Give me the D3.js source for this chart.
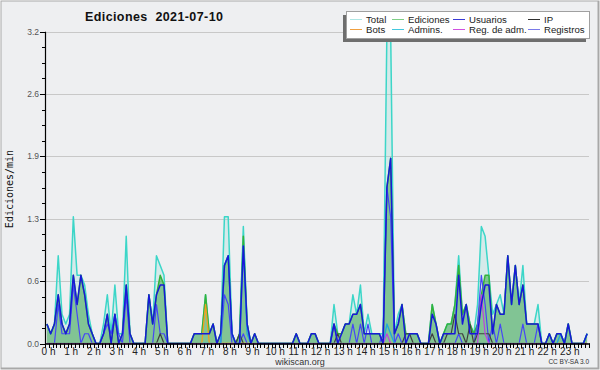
<!DOCTYPE html>
<html>
<head>
<meta charset="utf-8">
<script src="https://cdn.jsdelivr.net/npm/d3@7"></script>
<style>
  body { margin: 0; background: #fff; }
  svg { display: block; font-family: "Liberation Sans", Arial, sans-serif; }
</style>
</head>
<body>
<svg id="chart" width="600" height="370"></svg>
<script>
// valores por tramo de 10 minutos (ediciones/min), 6 por hora
var total = [
  0.2,0.1,0.2,0.9,0.3,0.2, 0.3,1.3,0.7,0.7,0.6,0.3, 0.1,0,0,0.2,0.5,0.1, 0.6,0.1,0.1,1.1,0.1,0,
  0,0,0,0.5,0.2,0.9, 0.8,0.7,0,0,0,0, 0,0,0,0.1,0.1,0.1, 0.5,0.1,0.2,0,0.1,1.3,
  1.3,0.1,0,0.1,1.2,0.2, 0,0.1,0,0,0,0, 0,0,0,0,0,0, 0.1,0,0,0,0.1,0.1,
  0,0,0,0,0.4,0.1, 0.1,0.2,0.2,0.5,0.3,0.6, 0.1,0.3,0.1,0.1,0.1,0.1, 3.2,3.2,0.1,0.3,0.4,0.1,
  0.1,0.1,0.1,0,0,0, 0.4,0.2,0,0.1,0.2,0.2, 0.4,0.9,0.3,0.4,0.2,0.1, 0.4,1.2,1.1,0.7,0.3,0.4,
  0.5,0.3,0.9,0.4,0.8,0.4, 0.8,0.2,0.2,0.2,0.4,0, 0,0.1,0,0.1,0.1,0, 0.2,0,0,0,0,0.1
];
var ediciones = [
  0.2,0.1,0.2,0.5,0.2,0.1, 0.2,0.7,0.4,0.7,0.5,0.2, 0.1,0,0,0.1,0.3,0, 0.3,0,0.1,0.6,0.1,0,
  0,0,0,0.5,0.2,0.5, 0.7,0.6,0,0,0,0, 0,0,0,0.1,0.1,0.1, 0.5,0.1,0.2,0,0.1,0.8,
  0.9,0.1,0,0.1,1.1,0.2, 0,0.1,0,0,0,0, 0,0,0,0,0,0, 0.1,0,0,0,0.1,0.1,
  0,0,0,0,0.2,0.1, 0.1,0.2,0.2,0.3,0.3,0.4, 0.1,0.1,0.1,0.1,0.1,0, 1.6,1.9,0.1,0.2,0.4,0.1,
  0.1,0.1,0.1,0,0,0, 0.4,0.2,0,0.1,0.2,0.2, 0.4,0.8,0.3,0.4,0.2,0.1, 0.2,0.5,0.7,0.7,0.1,0.4,
  0.3,0.3,0.9,0.4,0.8,0.4, 0.6,0.2,0.2,0.2,0.2,0, 0,0.1,0,0.1,0.1,0, 0.2,0,0,0,0,0.1
];
var usuarios = [
  0.2,0.1,0.2,0.5,0.2,0.1, 0.2,0.7,0.4,0.7,0.5,0.2, 0.1,0,0,0.1,0.3,0, 0.3,0,0.1,0.6,0.1,0,
  0,0,0,0.5,0.2,0.5, 0.6,0.6,0,0,0,0, 0,0,0,0.1,0.1,0.1, 0.1,0.1,0.2,0,0.1,0.8,
  0.9,0.1,0,0,1.0,0.2, 0,0.1,0,0,0,0, 0,0,0,0,0,0, 0.1,0,0,0,0.1,0.1,
  0,0,0,0,0.2,0, 0.1,0.2,0.2,0.3,0.3,0.4, 0.1,0.1,0.1,0.1,0.1,0, 1.6,1.9,0.1,0.2,0.4,0,
  0.1,0.1,0.1,0,0,0, 0.3,0.2,0,0.1,0.1,0.1, 0.1,0.7,0.2,0.4,0.1,0.1, 0.1,0.4,0.6,0.6,0.1,0.4,
  0.3,0.3,0.9,0.4,0.8,0.4, 0.6,0.2,0.2,0.2,0.2,0, 0,0.1,0,0.1,0.1,0, 0.2,0,0,0,0,0.1
];
var ip = [
  0,0,0,0,0,0, 0,0,0,0,0,0, 0,0,0,0,0,0, 0,0,0,0,0,0,
  0,0,0,0,0,0, 0.1,0,0,0,0,0, 0,0,0,0,0,0, 0,0,0,0,0,0,
  0,0,0,0.1,0,0, 0,0,0,0,0,0, 0,0,0,0,0,0, 0,0,0,0,0,0,
  0,0,0,0,0,0.1, 0,0,0,0,0,0, 0,0,0,0,0,0, 0,0,0,0,0,0.1,
  0.1,0,0,0,0,0, 0.1,0,0,0,0.1,0.1, 0.3,0.1,0.1,0,0.2,0, 0.1,0.1,0.1,0.1,0,0,
  0,0,0,0,0,0, 0,0,0,0,0,0, 0,0,0,0,0,0, 0,0,0,0,0,0
];
var bots = [
  0,0,0,0,0,0, 0,0,0,0,0,0, 0,0,0,0,0,0, 0,0,0,0,0,0,
  0,0,0,0,0,0, 0,0,0,0,0,0, 0,0,0,0,0,0, 0.4,0,0,0,0,0,
  0,0,0,0,0,0, 0,0,0,0,0,0, 0,0,0,0,0,0, 0,0,0,0,0,0,
  0,0,0,0,0,0, 0,0,0,0,0,0, 0,0,0,0,0,0, 0,0,0,0,0,0,
  0,0,0,0,0,0, 0,0,0,0,0,0, 0,0,0,0,0,0, 0,0,0,0,0,0,
  0,0,0,0,0,0, 0,0,0,0,0,0, 0,0,0,0,0,0, 0,0,0,0,0,0
];
var admins = [
  0,0,0,0,0,0, 0,0,0,0,0,0, 0,0,0,0,0,0, 0,0,0,0,0,0,
  0,0,0,0,0,0, 0,0,0,0,0,0, 0,0,0,0,0,0, 0,0,0,0,0,0.8,
  0.9,0.1,0,0,1.0,0.1, 0,0,0,0,0,0, 0,0,0,0,0,0, 0,0,0,0,0,0,
  0,0,0,0,0,0, 0,0,0,0,0,0, 0,0,0,0,0,0, 0.2,0.1,0,0,0,0,
  0,0,0,0,0,0, 0,0,0,0,0,0, 0,0,0,0,0,0, 0,0,0,0,0,0,
  0,0,0,0,0,0, 0,0,0,0,0,0, 0,0,0,0,0.1,0, 0,0,0,0,0,0.1
];
var regAdm = [
  0,0,0,0,0,0, 0,0,0,0,0,0, 0,0,0,0,0,0, 0,0,0,0,0,0,
  0,0,0,0,0,0, 0,0,0,0,0,0, 0,0,0,0,0,0, 0,0,0,0,0,0,
  0,0,0,0,0,0, 0,0,0,0,0,0, 0,0,0,0,0,0, 0,0,0,0,0,0,
  0,0,0,0,0,0, 0,0,0,0,0,0, 0,0,0,0,0,0, 0.1,0,0,0,0,0,
  0,0,0,0,0,0, 0,0,0,0,0,0, 0,0,0,0,0,0, 0,0.5,0.1,0,0,0,
  0,0,0,0,0,0, 0,0,0,0,0,0, 0,0,0,0,0,0, 0,0,0,0,0,0
];
var registros = [
  0,0,0,0.4,0.1,0.1, 0.1,0.6,0.3,0,0.1,0.1, 0,0,0,0.1,0.2,0.1, 0.3,0.1,0,0.5,0,0,
  0,0,0,0,0,0.4, 0.1,0.1,0,0,0,0, 0,0,0,0,0,0, 0,0,0,0,0,0.5,
  0.4,0,0,0,0.1,0, 0,0,0,0,0,0, 0,0,0,0,0,0, 0,0,0,0,0,0,
  0,0,0,0,0.2,0, 0,0,0,0.2,0,0.2, 0,0.2,0,0,0,0.1, 1.6,1.3,0,0.1,0,0,
  0,0,0,0,0,0, 0,0,0,0,0,0, 0,0.1,0,0,0,0, 0.2,0.7,0.4,0,0.2,0,
  0.2,0,0,0,0,0, 0.2,0,0,0,0.2,0, 0,0,0,0,0,0, 0,0,0,0,0,0
];

var legendNames = ["Total", "Ediciones", "Usuarios", "IP", "Bots", "Admins.", "Reg. de adm.", "Registros"];
var legendColors = ["#aee6e4", "#7fcf86", "#3a3ad6", "#303030", "#f0a040", "#44c8de", "#d050e0", "#7a7ae8"];
var yTicks = [0, 0.64, 1.28, 1.92, 2.56, 3.2];
var hours = d3.range(0, 24);

var svg = d3.select("#chart");

// fondo y marco
svg.append("rect").attr("x", 0.5).attr("y", 0.5).attr("width", 599).attr("height", 369)
  .attr("fill", "#a8a8a8");
svg.append("rect").attr("x", 1.5).attr("y", 1.5).attr("width", 596).attr("height", 366)
  .attr("fill", "#eeeff1");

var x = d3.scaleLinear().domain([0, 1440]).range([45, 589]);
var y = d3.scaleLinear().domain([0, 3.2]).range([343.5, 31.7]);

function xOf(d, i) { return x(i * 10 + 5); }

// rejilla
svg.append("g").selectAll("line").data(yTicks.slice(1)).enter().append("line")
  .attr("x1", 45).attr("x2", 589)
  .attr("y1", d => Math.round(y(d)) + 0.5).attr("y2", d => Math.round(y(d)) + 0.5)
  .attr("stroke", "#c8c8c8").attr("stroke-width", 1);

var plot = svg.append("g");

function area(vals, fill, op) {
  plot.append("path").datum(vals)
    .attr("d", d3.area().x(xOf).y0(y(0)).y1(d => y(d)))
    .attr("fill", fill).attr("fill-opacity", op);
}
function line(vals, color, w) {
  plot.append("path").datum(vals)
    .attr("d", d3.line().x(xOf).y(d => y(d)))
    .attr("fill", "none").attr("stroke", color).attr("stroke-width", w)
    .attr("stroke-linejoin", "round");
}

area(total, "#7fdcd2", 0.22);
area(ediciones, "#2e9e3e", 0.5);
line(total, "#3cd6c8", 1.5);
line(ediciones, "#34b23a", 1.5);
line(registros, "#4646f6", 1.2);
line(ip, "#404040", 1.2);
line(bots, "#f0a020", 1.3);
line(admins, "#22a8d8", 1.4);
line(regAdm, "#c040e0", 1.2);
line(usuarios, "#1818d8", 1.5);

// eje y
var yAxis = svg.append("g");
yAxis.append("line").attr("x1", 45.5).attr("x2", 45.5).attr("y1", y(3.2)).attr("y2", y(0) + 1)
  .attr("stroke", "#000").attr("stroke-width", 1.2);
var minor = d3.range(0, 21).map(k => k * 0.16);
yAxis.selectAll(".mt").data(minor).enter().append("line")
  .attr("x1", (d, i) => i % 4 === 0 ? 40 : 42).attr("x2", 45.5)
  .attr("y1", d => Math.round(y(d)) + 0.5).attr("y2", d => Math.round(y(d)) + 0.5)
  .attr("stroke", "#000").attr("stroke-width", 1);
yAxis.selectAll("text").data(yTicks).enter().append("text")
  .attr("x", 39).attr("y", d => y(d) + 3)
  .attr("text-anchor", "end").attr("font-size", 8.5).attr("fill", "#555")
  .text(d => d.toFixed(1));

// eje x
var xAxis = svg.append("g");
xAxis.selectAll(".xt").data(d3.range(0, 145)).enter().append("line")
  .attr("x1", d => Math.round(x(d * 10)) + 0.5).attr("x2", d => Math.round(x(d * 10)) + 0.5)
  .attr("y1", 343.5).attr("y2", 348)
  .attr("stroke", "#000").attr("stroke-width", 1);
xAxis.append("line").attr("x1", 45).attr("x2", 590).attr("y1", 344).attr("y2", 344)
  .attr("stroke", "#000").attr("stroke-width", 1.6);
xAxis.selectAll("text").data(hours).enter().append("text")
  .attr("x", d => x(d * 60) + 3.5).attr("y", 354.5)
  .attr("text-anchor", "middle").attr("font-size", 10).attr("fill", "#222")
  .text(d => d + " h");

// textos
svg.append("text").attr("x", 85).attr("y", 21).attr("font-size", 12.5).attr("font-weight", "bold")
  .attr("letter-spacing", 0.4).attr("fill", "#111").style("white-space", "pre").text("Ediciones  2021-07-10");
svg.append("text").attr("transform", "translate(13,189) rotate(-90)")
  .attr("text-anchor", "middle").attr("font-family", "DejaVu Sans Mono").attr("font-size", 10)
  .attr("fill", "#111").text("Ediciones/min");
svg.append("text").attr("x", 300).attr("y", 365).attr("text-anchor", "middle")
  .attr("font-size", 9).attr("fill", "#333").text("wikiscan.org");
svg.append("text").attr("x", 589).attr("y", 364).attr("text-anchor", "end")
  .attr("font-size", 6.5).attr("fill", "#333").text("CC BY-SA 3.0");

// leyenda
var lg = svg.append("g");
lg.append("rect").attr("x", 343).attr("y", 15).attr("width", 243).attr("height", 27).attr("fill", "#6e6e6e");
lg.append("rect").attr("x", 346.5).attr("y", 11.5).attr("width", 243).attr("height", 27)
  .attr("fill", "#fff").attr("stroke", "#a0a0a0");
var colX = [350, 392, 453, 528];
var rowY = [19, 29];
legendNames.forEach(function (name, i) {
  var cx = colX[i % 4], cy = rowY[Math.floor(i / 4)];
  lg.append("line").attr("x1", cx).attr("x2", cx + 12).attr("y1", cy + 0.5).attr("y2", cy + 0.5)
    .attr("stroke", legendColors[i]).attr("stroke-width", 1);
  lg.append("text").attr("x", cx + 16).attr("y", cy + 3.5).attr("font-size", 9.6).attr("fill", "#222").text(name);
});
</script>
</body>
</html>
